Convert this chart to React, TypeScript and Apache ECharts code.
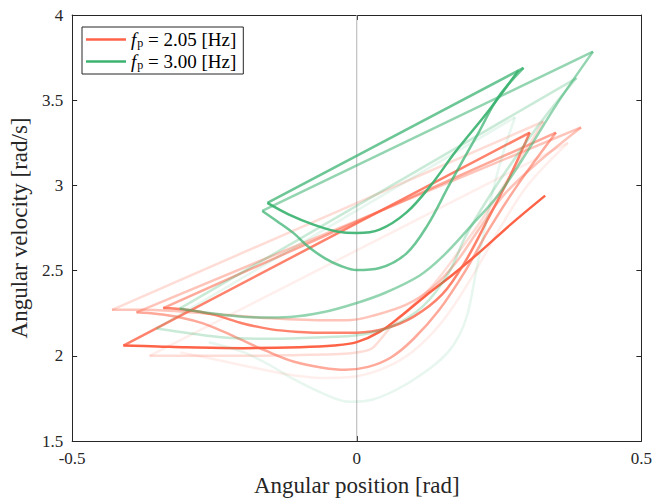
import React, { useEffect, useRef } from 'react';
import * as echarts from 'echarts';

// ---- data (angular position [rad], angular velocity [rad/s]) ----
const xTicks = [-0.5, 0, 0.5];
const yTicks = [1.5, 2, 2.5, 3, 3.5, 4];

// f_p = 2.05 Hz : successive cycles (earliest first); each runs from its left turning point to its peak
const red0: number[][] = [
  [-0.31, 2.02], [-0.25, 1.98], [-0.18, 1.93], [-0.11, 1.885], [-0.05, 1.87], [0.0, 1.88],
  [0.05, 1.93], [0.1, 2.03], [0.15, 2.2], [0.2, 2.45], [0.25, 2.74], [0.3, 3.0], [0.371, 3.25],
];
const red1: number[][] = [
  [-0.364, 2.0], [-0.3, 2.0], [-0.2, 2.0], [-0.1, 2.005], [-0.03, 2.01], [0.0, 2.02], [0.025, 2.04],
  [0.04, 2.09], [0.06, 2.17], [0.09, 2.27], [0.13, 2.4], [0.17, 2.57], [0.22, 2.8], [0.27, 3.06],
  [0.328, 3.375],
];
const red2: number[][] = [
  [-0.43, 2.27], [-0.38, 2.27], [-0.33, 2.265], [-0.25, 2.245], [-0.15, 2.22], [-0.05, 2.208], [-0.01, 2.21],
  [0.028, 2.235], [0.087, 2.3], [0.133, 2.4], [0.174, 2.546], [0.214, 2.74], [0.26, 2.95], [0.32, 3.14],
  [0.394, 3.34],
];
const red3: number[][] = [
  [-0.387, 2.255], [-0.35, 2.245], [-0.31, 2.225], [-0.27, 2.19], [-0.233, 2.14], [-0.2, 2.09], [-0.16, 2.03],
  [-0.11, 1.965], [-0.06, 1.93], [-0.02, 1.918], [0.02, 1.935], [0.06, 1.99], [0.1, 2.1], [0.145, 2.27],
  [0.191, 2.5], [0.232, 2.74], [0.28, 2.99], [0.35, 3.31],
];
const red4: number[][] = [
  [-0.34, 2.28], [-0.3, 2.27], [-0.25, 2.24], [-0.2, 2.19], [-0.15, 2.155], [-0.1, 2.14], [-0.05, 2.135],
  [0.0, 2.136], [0.05, 2.16], [0.1, 2.23], [0.15, 2.36], [0.19, 2.55], [0.23, 2.8], [0.27, 3.06],
  [0.304, 3.31],
];
const red5: number[][] = [
  [-0.41, 2.06], [-0.35, 2.055], [-0.3, 2.05], [-0.2, 2.045], [-0.1, 2.05], [-0.04, 2.06], [0.0, 2.08],
  [0.04, 2.14], [0.08, 2.24], [0.12, 2.35], [0.17, 2.48], [0.22, 2.62], [0.27, 2.77], [0.331, 2.94],
];

// f_p = 3.00 Hz : successive cycles (earliest first)
const green0: number[][] = [
  [-0.26, 2.08], [-0.198, 2.02], [-0.15, 1.94], [-0.111, 1.863], [-0.06, 1.78], [-0.012, 1.73], [0.03, 1.745],
  [0.08, 1.82], [0.13, 1.93], [0.16, 2.02], [0.18, 2.12], [0.195, 2.25], [0.21, 2.5], [0.225, 2.75],
  [0.24, 2.98], [0.258, 3.2], [0.278, 3.4],
];
const green1: number[][] = [
  [-0.352, 2.16], [-0.3, 2.135], [-0.233, 2.107], [-0.15, 2.1], [-0.05, 2.11], [0.0, 2.12], [0.057, 2.166],
  [0.116, 2.29], [0.162, 2.49], [0.191, 2.7], [0.23, 2.92], [0.28, 3.17], [0.33, 3.4], [0.386, 3.63],
];
const green2: number[][] = [
  [-0.311, 2.277], [-0.27, 2.255], [-0.233, 2.24], [-0.17, 2.225], [-0.117, 2.228], [-0.06, 2.255],
  [0.0, 2.31], [0.05, 2.37], [0.11, 2.47], [0.15, 2.58], [0.2, 2.76], [0.25, 2.95], [0.3, 3.2],
  [0.35, 3.47], [0.415, 3.785],
];
const green3: number[][] = [
  [-0.166, 2.85], [-0.14, 2.79], [-0.111, 2.72], [-0.085, 2.64], [-0.055, 2.57], [-0.03, 2.53], [0.0, 2.503],
  [0.04, 2.515], [0.087, 2.6], [0.125, 2.77], [0.162, 3.0], [0.214, 3.31], [0.249, 3.52], [0.293, 3.69],
];
const green4: number[][] = [
  [-0.157, 2.897], [-0.12, 2.83], [-0.076, 2.77], [-0.035, 2.73], [0.0, 2.72], [0.04, 2.74], [0.087, 2.84],
  [0.13, 3.0], [0.174, 3.2], [0.232, 3.44], [0.284, 3.675],
];

const redCycles = [red0, red1, red2, red3, red4, red5];
const greenCycles = [green0, green1, green2, green3, green4];
const legendNames = ['fp205', 'fp300'];
const legendValues = ['2.05', '3.00'];

// ---- styles ----
const RED = '#ff6347';
const GREEN = '#3cb371';
const AXIS = '#262626';
const FONT = '"Liberation Serif", "DejaVu Serif", serif';
const redAlpha = [0.1, 0.22, 0.38, 0.55, 0.8, 1.0];
const greenAlpha = [0.12, 0.28, 0.55, 0.75, 0.92];

function addCycles(series: any[], cycles: number[][][], alphas: number[], color: string, tag: string) {
  cycles.forEach((d, i) => {
    series.push({
      type: 'line', name: tag + i, data: d, symbol: 'none', silent: true, smooth: 0.35,
      lineStyle: { color, width: 2.5, opacity: alphas[i] },
    });
    if (i < cycles.length - 1) {
      // straight return stroke from this cycle's peak to the next cycle's start
      series.push({
        type: 'line', name: tag + 'j' + i, data: [d[d.length - 1], cycles[i + 1][0]], symbol: 'none', silent: true,
        lineStyle: { color, width: 2.5, opacity: alphas[i] },
      });
    }
  });
}

export default function App() {
  const ref = useRef<HTMLDivElement>(null);
  useEffect(() => {
    if (!ref.current) return;
    const chart = echarts.init(ref.current, undefined, { renderer: 'svg' });
    const series: any[] = [];
    series.push({
      type: 'line', name: 'zero', data: [[0, yTicks[0]], [0, yTicks[yTicks.length - 1]]], symbol: 'none', silent: true,
      lineStyle: { color: '#b3b3b3', width: 1 },
    });
    addCycles(series, redCycles, redAlpha, RED, 'r');
    addCycles(series, greenCycles, greenAlpha, GREEN, 'g');
    legendNames.forEach((n, i) => series.push({
      type: 'line', name: n, data: [], symbol: 'none',
      itemStyle: { color: i === 0 ? RED : GREEN },
      lineStyle: { color: i === 0 ? RED : GREEN, width: 2.5 },
    }));

    const axisCommon = {
      axisLine: { show: true, onZero: false, lineStyle: { color: AXIS, width: 1 } },
      axisTick: { show: true, inside: true, length: 5, lineStyle: { color: AXIS } },
      splitLine: { show: false },
    };

    chart.setOption({
      animation: false,
      backgroundColor: '#ffffff',
      grid: { left: 70, right: 11, top: 15, bottom: 60, containLabel: false },
      legend: {
        data: legendNames.map((n) => ({ name: n, icon: 'rect' })),
        orient: 'vertical',
        left: 82,
        top: 27,
        padding: [3, 7, 3, 4],
        itemGap: 3,
        itemWidth: 40,
        itemHeight: 2.5,
        backgroundColor: '#ffffff',
        borderColor: '#262626',
        borderWidth: 1,
        borderRadius: 0,
        selectedMode: false,
        formatter: (name: string) => {
          const v = legendValues[legendNames.indexOf(name)];
          return '{f|f}{p|p}{t| = ' + v + ' [Hz]}';
        },
        textStyle: {
          color: '#000',
          fontFamily: FONT,
          fontSize: 19,
          rich: {
            f: { fontFamily: FONT, fontStyle: 'italic', fontSize: 19, color: '#000', lineHeight: 19, verticalAlign: 'middle' },
            p: { fontFamily: FONT, fontSize: 12, color: '#000', verticalAlign: 'bottom', lineHeight: 19, padding: [7, 0, 0, 1] },
            t: { fontFamily: FONT, fontSize: 19, color: '#000', lineHeight: 19, verticalAlign: 'middle' },
          },
        },
      },
      xAxis: [
        {
          type: 'value', min: xTicks[0], max: xTicks[xTicks.length - 1], interval: 0.5, position: 'bottom',
          ...axisCommon,
          axisLabel: { color: AXIS, fontFamily: FONT, fontSize: 17, margin: 9, formatter: (v: number) => String(v) },
          name: 'Angular position [rad]', nameLocation: 'middle', nameGap: 33,
          nameTextStyle: { color: AXIS, fontFamily: FONT, fontSize: 23 },
        },
        {
          type: 'value', min: xTicks[0], max: xTicks[xTicks.length - 1], interval: 0.5, position: 'top',
          ...axisCommon, axisLabel: { show: false },
        },
      ],
      yAxis: [
        {
          type: 'value', min: yTicks[0], max: yTicks[yTicks.length - 1], interval: 0.5, position: 'left',
          ...axisCommon,
          axisLabel: { color: AXIS, fontFamily: FONT, fontSize: 17, margin: 9, formatter: (v: number) => String(v) },
          name: 'Angular velocity [rad/s]', nameLocation: 'middle', nameGap: 35, nameRotate: 90,
          nameTextStyle: { color: AXIS, fontFamily: FONT, fontSize: 23 },
        },
        {
          type: 'value', min: yTicks[0], max: yTicks[yTicks.length - 1], interval: 0.5, position: 'right',
          ...axisCommon, axisLabel: { show: false },
        },
      ],
      series,
    });
    return () => chart.dispose();
  }, []);
  return <div ref={ref} style={{ position: 'absolute', left: 0, top: 0, width: 655, height: 502 }} />;
}
